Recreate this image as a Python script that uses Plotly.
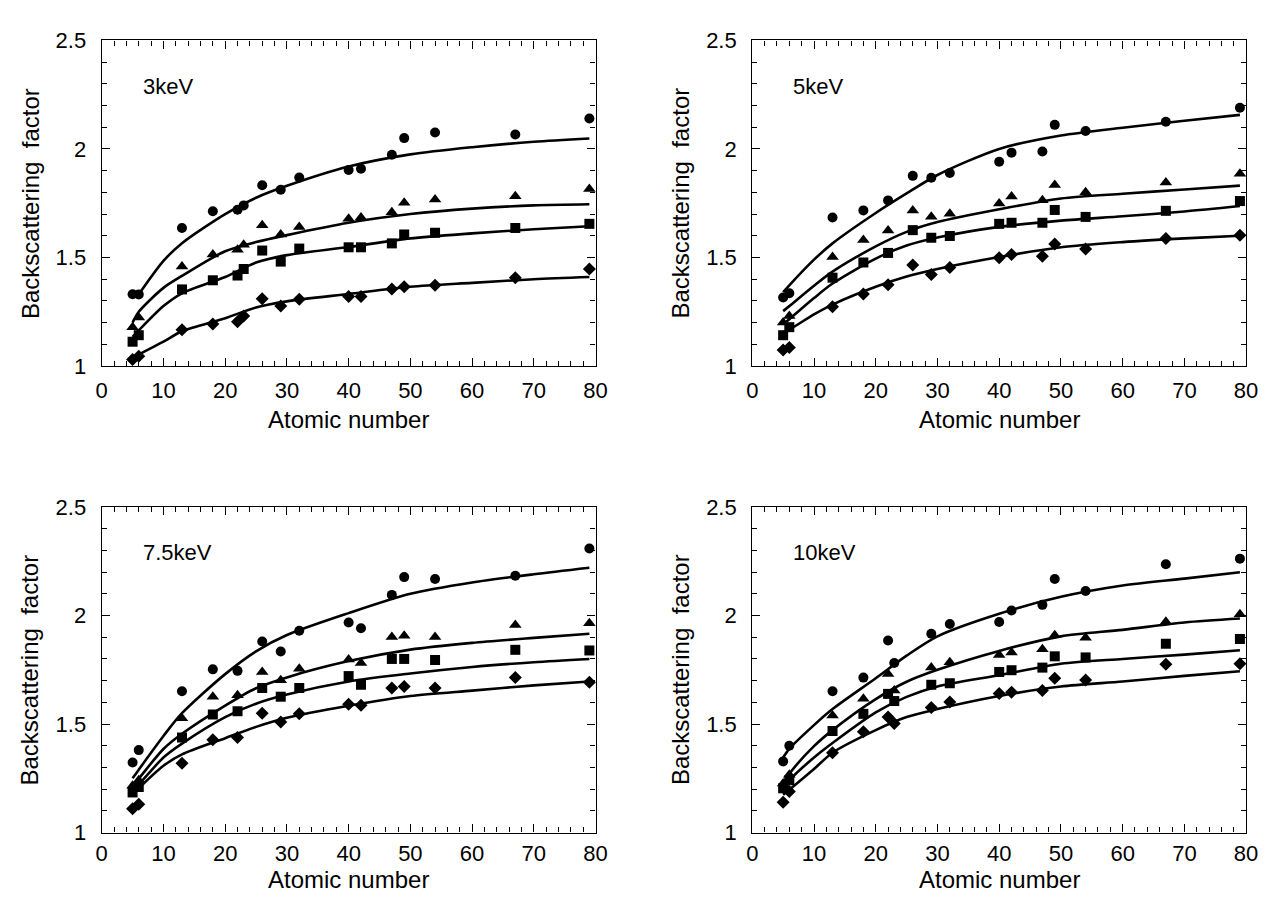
import plotly.graph_objects as go

# ---------------- data ----------------
Z = [5, 6, 13, 18, 22, 23, 26, 29, 32, 40, 42, 47, 49, 54, 67, 79]
CURVE_Z = [5, 6, 10, 13, 20, 25, 30, 40, 50, 60, 70, 79]
ENERGIES = ["3keV", "5keV", "7.5keV", "10keV"]
X_TICKS = [0, 10, 20, 30, 40, 50, 60, 70, 80]
Y_TICKS = [1, 1.5, 2, 2.5]
Y_TICK_TEXT = ["1", "1.5", "2", "2.5"]

# 3 keV measured points
E3_CIRCLE = [1.331, 1.33, 1.636, 1.713, 1.72, 1.74, 1.833, 1.812, 1.868, 1.903, 1.909, 1.973, 2.050, 2.076, 2.067, 2.14]
E3_TRIANGLE = [1.179, 1.223, 1.459, 1.514, 1.536, 1.559, 1.648, 1.606, 1.641, 1.678, 1.684, 1.708, 1.752, 1.767, 1.782, 1.816]
E3_SQUARE = [1.112, 1.142, 1.353, 1.395, 1.417, 1.447, 1.532, 1.481, 1.541, 1.547, 1.547, 1.565, 1.606, 1.614, 1.636, 1.655]
E3_DIAMOND = [1.03, 1.045, 1.167, 1.194, 1.204, 1.231, 1.31, 1.276, 1.308, 1.32, 1.32, 1.355, 1.365, 1.372, 1.407, 1.447]
# 3 keV fitted curves
E3_CIRCLE_FIT = [None, 1.33, 1.484, 1.566, 1.70, 1.775, 1.83, 1.919, 1.975, 2.008, 2.033, 2.048]
E3_TRIANGLE_FIT = [1.20, 1.25, 1.36, 1.415, 1.529, 1.571, 1.603, 1.66, 1.70, 1.725, 1.74, 1.745]
E3_SQUARE_FIT = [1.134, 1.164, 1.276, 1.335, 1.41, 1.477, 1.511, 1.548, 1.588, 1.611, 1.63, 1.644]
E3_DIAMOND_FIT = [1.03, 1.052, 1.112, 1.16, 1.22, 1.27, 1.298, 1.332, 1.365, 1.383, 1.40, 1.41]

# 5 keV measured points
E5_CIRCLE = [1.316, 1.335, 1.684, 1.717, 1.763, None, 1.876, 1.867, 1.889, 1.941, 1.983, 1.988, 2.111, 2.083, 2.125, 2.19]
E5_TRIANGLE = [1.201, 1.231, 1.502, 1.581, 1.624, None, 1.717, 1.688, 1.702, 1.749, 1.781, 1.764, 1.834, 1.801, 1.846, 1.886]
E5_SQUARE = [1.142, 1.179, 1.407, 1.477, 1.521, None, 1.626, 1.591, 1.599, 1.655, 1.66, 1.66, 1.719, 1.687, 1.715, 1.76]
E5_DIAMOND = [1.074, 1.085, 1.273, 1.332, 1.375, None, 1.465, 1.422, 1.454, 1.499, 1.514, 1.506, 1.562, 1.539, 1.588, 1.603]
# 5 keV fitted curves
E5_CIRCLE_FIT = [1.34, 1.372, 1.49, 1.565, 1.705, 1.795, 1.88, 2.0, 2.062, 2.098, 2.13, 2.157]
E5_TRIANGLE_FIT = [1.253, 1.276, 1.37, 1.435, 1.551, 1.618, 1.663, 1.722, 1.772, 1.794, 1.813, 1.831]
E5_SQUARE_FIT = [1.194, 1.216, 1.313, 1.38, 1.495, 1.555, 1.592, 1.641, 1.67, 1.69, 1.712, 1.737]
E5_DIAMOND_FIT = [1.156, 1.168, 1.238, 1.283, 1.365, 1.412, 1.447, 1.502, 1.547, 1.571, 1.588, 1.60]

# 7.5 keV measured points
E75_CIRCLE = [1.323, 1.38, 1.651, 1.752, 1.745, None, 1.88, 1.834, 1.93, 1.968, 1.941, 2.095, 2.177, 2.168, 2.183, 2.309]
E75_TRIANGLE = [1.216, 1.241, 1.527, 1.626, 1.633, None, 1.74, 1.702, 1.755, 1.797, 1.781, 1.901, 1.907, 1.901, 1.956, 1.964]
E75_SQUARE = [1.185, 1.21, 1.438, 1.544, 1.559, None, 1.666, 1.626, 1.666, 1.721, 1.681, 1.80, 1.80, 1.795, 1.842, 1.839]
E75_DIAMOND = [1.11, 1.13, 1.32, 1.428, 1.438, None, 1.55, 1.509, 1.547, 1.591, 1.587, 1.666, 1.673, 1.666, 1.714, 1.693]
# 7.5 keV fitted curves
E75_CIRCLE_FIT = [1.25, 1.29, 1.445, 1.55, 1.73, 1.835, 1.91, 2.011, 2.10, 2.152, 2.19, 2.22]
E75_TRIANGLE_FIT = [1.216, 1.249, 1.385, 1.455, 1.585, 1.665, 1.715, 1.79, 1.843, 1.874, 1.897, 1.916]
E75_SQUARE_FIT = [1.197, 1.222, 1.346, 1.41, 1.532, 1.594, 1.636, 1.696, 1.733, 1.763, 1.785, 1.80]
E75_DIAMOND_FIT = [1.174, 1.204, 1.308, 1.36, 1.435, 1.487, 1.529, 1.584, 1.629, 1.654, 1.678, 1.696]

# 10 keV measured points
E10_CIRCLE = [1.328, 1.40, 1.651, 1.714, 1.885, 1.781, None, 1.916, 1.961, 1.97, 2.023, 2.049, 2.168, 2.113, 2.236, 2.262]
E10_TRIANGLE = [1.226, 1.267, 1.539, 1.617, 1.73, 1.654, None, 1.76, 1.785, 1.818, 1.83, 1.845, 1.909, 1.897, 1.971, 2.006]
E10_SQUARE = [1.204, 1.241, 1.468, 1.547, 1.639, 1.606, None, 1.681, 1.688, 1.74, 1.748, 1.76, 1.812, 1.807, 1.87, 1.892]
E10_DIAMOND = [1.14, 1.189, 1.368, 1.465, 1.532, 1.502, None, 1.576, 1.602, 1.641, 1.647, 1.654, 1.711, 1.703, 1.775, 1.778]
# 10 keV fitted curves
E10_CIRCLE_FIT = [1.346, 1.386, 1.495, 1.569, 1.711, 1.815, 1.904, 2.008, 2.086, 2.138, 2.17, 2.199]
E10_TRIANGLE_FIT = [1.226, 1.271, 1.398, 1.472, 1.615, 1.695, 1.75, 1.837, 1.904, 1.934, 1.968, 1.986]
E10_SQUARE_FIT = [1.204, 1.241, 1.346, 1.413, 1.554, 1.625, 1.673, 1.725, 1.778, 1.80, 1.82, 1.84]
E10_DIAMOND_FIT = [1.174, 1.197, 1.293, 1.368, 1.472, 1.532, 1.569, 1.629, 1.673, 1.696, 1.722, 1.743]

PANELS = [
    ([E3_CIRCLE, E3_TRIANGLE, E3_SQUARE, E3_DIAMOND],
     [E3_CIRCLE_FIT, E3_TRIANGLE_FIT, E3_SQUARE_FIT, E3_DIAMOND_FIT]),
    ([E5_CIRCLE, E5_TRIANGLE, E5_SQUARE, E5_DIAMOND],
     [E5_CIRCLE_FIT, E5_TRIANGLE_FIT, E5_SQUARE_FIT, E5_DIAMOND_FIT]),
    ([E75_CIRCLE, E75_TRIANGLE, E75_SQUARE, E75_DIAMOND],
     [E75_CIRCLE_FIT, E75_TRIANGLE_FIT, E75_SQUARE_FIT, E75_DIAMOND_FIT]),
    ([E10_CIRCLE, E10_TRIANGLE, E10_SQUARE, E10_DIAMOND],
     [E10_CIRCLE_FIT, E10_TRIANGLE_FIT, E10_SQUARE_FIT, E10_DIAMOND_FIT]),
]

# ---------------- style / layout ----------------
PAGE_MARGIN = 8                    # default <body> margin of the html page
W, H = 1273 - 2 * PAGE_MARGIN, 909 - 2 * PAGE_MARGIN
SYMBOLS = ["circle", "triangle-up", "square", "diamond"]
SIZES = [10, 11, 10, 10]
FONT = "Liberation Sans, Arial, sans-serif"

# screen-pixel boxes of the four plot areas (left, right, top, bottom),
# distance of the x title centre below the axis, x tick label standoff
BOXES = [(97, 598, 29, 364, 55, 4), (757, 1258, 29, 364, 55, 4),
         (97, 598, 509, 844, 48, 1), (757, 1258, 509, 844, 48, 1)]


def px(v):
    return (v - PAGE_MARGIN) / W


def py(v):
    return (H - (v - PAGE_MARGIN)) / H


fig = go.Figure()
layout = dict(
    width=W, height=H,
    margin=dict(l=0, r=0, t=0, b=0),
    paper_bgcolor="white", plot_bgcolor="white",
    showlegend=False,
    font=dict(family=FONT, color="black"),
    annotations=[],
)

for i, ((pts, fits), label, box) in enumerate(zip(PANELS, ENERGIES, BOXES)):
    n = i + 1
    xa = "x" if n == 1 else f"x{n}"
    ya = "y" if n == 1 else f"y{n}"
    for vals, fit, sym, sz in zip(pts, fits, SYMBOLS, SIZES):
        fig.add_trace(go.Scatter(
            x=CURVE_Z, y=fit, mode="lines", xaxis=xa, yaxis=ya,
            line=dict(color="black", width=2.6, shape="spline", smoothing=0.8),
            connectgaps=False, hoverinfo="skip", cliponaxis=False))
        fig.add_trace(go.Scatter(
            x=Z, y=vals, mode="markers", xaxis=xa, yaxis=ya,
            marker=dict(symbol=sym, size=sz, color="black", line=dict(width=0)),
            cliponaxis=False))

    l, r, t, b, title_gap, x_standoff = box
    common = dict(
        showline=True, linecolor="black", linewidth=1.3, mirror="ticks",
        ticks="inside", ticklen=8, tickwidth=1.2, tickcolor="black",
        showgrid=False, zeroline=False,
        tickfont=dict(family=FONT, size=22, color="black"),
    )
    layout["xaxis" if n == 1 else f"xaxis{n}"] = dict(
        common, domain=[px(l), px(r)], anchor=ya, range=[0, 80],
        tickvals=X_TICKS, ticklabelstandoff=x_standoff,
        minor=dict(dtick=2, tick0=0, ticks="inside", ticklen=5,
                   tickwidth=1.2, tickcolor="black", showgrid=False),
    )
    layout["yaxis" if n == 1 else f"yaxis{n}"] = dict(
        common, domain=[py(b), py(t)], anchor=xa, range=[1, 2.5],
        tickvals=Y_TICKS, ticktext=Y_TICK_TEXT, ticklabelstandoff=10,
        minor=dict(dtick=0.1, tick0=1, ticks="inside", ticklen=5,
                   tickwidth=1.2, tickcolor="black", showgrid=False),
    )

    layout["annotations"].append(dict(
        text=label, xref=xa, yref=ya, x=6.3, y=2.29,
        xanchor="left", yanchor="middle", showarrow=False,
        font=dict(family=FONT, size=22, color="black")))
    layout["annotations"].append(dict(
        text="Atomic number", xref="paper", yref="paper",
        x=px((l + r) / 2), y=py(b + title_gap),
        xanchor="center", yanchor="middle", showarrow=False,
        font=dict(family=FONT, size=24, color="black")))
    layout["annotations"].append(dict(
        text="Backscattering  factor", xref="paper", yref="paper",
        x=px(l - 73), y=py((t + b) / 2), textangle=-90,
        xanchor="center", yanchor="middle", showarrow=False,
        font=dict(family=FONT, size=24, color="black")))

fig.update_layout(**layout)
fig.write_html("out.html")
